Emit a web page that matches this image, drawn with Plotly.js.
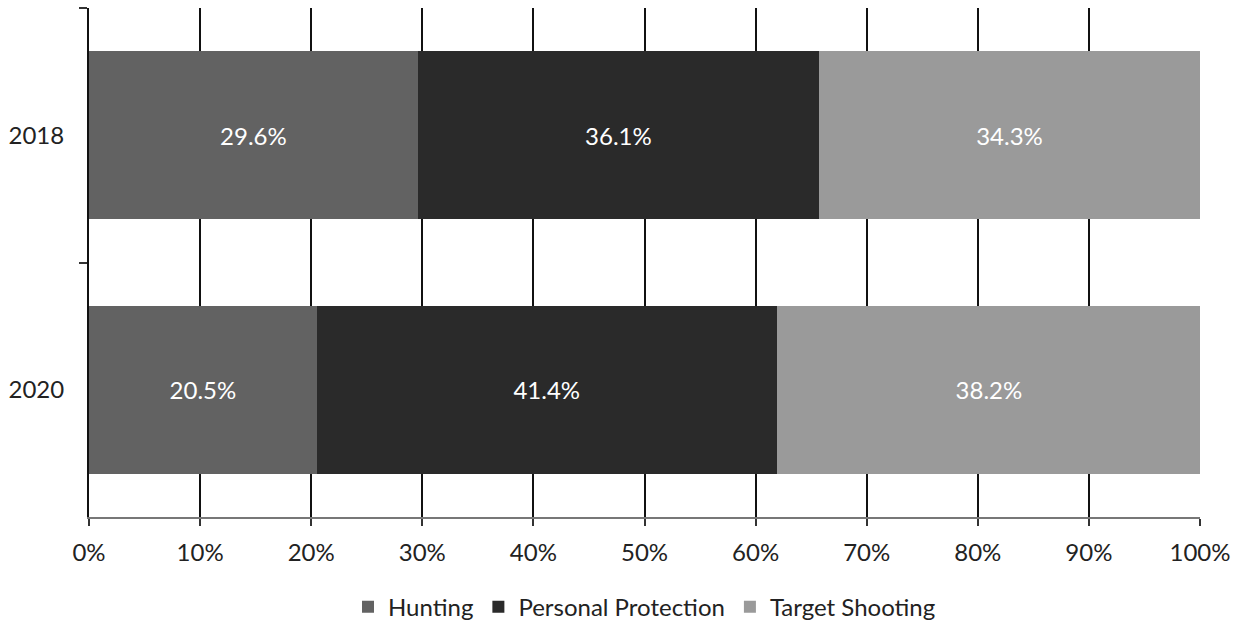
<!DOCTYPE html>
<html><head><meta charset="utf-8">
<script src="https://cdn.plot.ly/plotly-3.0.1.min.js"></script>
<style>body{margin:0;background:#fff}#chart{width:1239px;height:626px}</style>
</head><body><div id="chart"></div>
<script>
const years = ['2018', '2020'];
const hunting = [29.6, 20.5];
const personalProtection = [36.1, 41.4];
const targetShooting = [34.3, 38.2];
const seriesNames = ['Hunting', 'Personal Protection', 'Target Shooting'];
const seriesColors = ['#626262', '#2a2a2a', '#9a9a9a'];
const xTickVals = [0,10,20,30,40,50,60,70,80,90,100];
const xTickText = ['0%','10%','20%','30%','40%','50%','60%','70%','80%','90%','100%'];

const FONT = 'Lato, "Open Sans", sans-serif';
const FS = 24;
const series = [hunting, personalProtection, targetShooting];
const traces = series.map((vals, i) => ({
  type: 'bar', orientation: 'h', y: years, x: vals, name: seriesNames[i],
  marker: {color: seriesColors[i], line: {width: 0}},
  text: vals.map(v => v.toFixed(1) + '%'), textposition: 'inside',
  insidetextanchor: 'middle', textangle: 0,
  textfont: {color: '#ffffff', size: FS, family: FONT},
  hoverinfo: 'skip'
}));

const layout = {
  barmode: 'stack', bargap: 0.34,
  margin: {l: 89, r: 39, t: 8, b: 109, autoexpand: false},
  paper_bgcolor: '#fff', plot_bgcolor: '#fff',
  font: {family: FONT, size: FS, color: '#222'},
  xaxis: {range: [0, 100], tickvals: xTickVals, ticktext: xTickText,
    showgrid: true, gridcolor: '#111', gridwidth: 2, zeroline: false,
    showline: true, linecolor: '#777', linewidth: 2,
    ticks: 'outside', ticklen: 7, tickcolor: '#333', tickwidth: 2,
    ticklabelstandoff: 6, automargin: false,
    tickfont: {size: FS, color: '#222', family: FONT}, fixedrange: true},
  yaxis: {type: 'category', autorange: 'reversed', tickson: 'boundaries',
    showgrid: false, zeroline: false, showline: true, linecolor: '#111', linewidth: 2,
    ticks: 'outside', ticklen: 8, tickcolor: '#333', tickwidth: 2,
    ticklabelstandoff: 18, automargin: false,
    tickfont: {size: FS, color: '#222', family: FONT}, fixedrange: true},
  legend: {orientation: 'h', x: 0.5, xanchor: 'center', y: -0.177, yanchor: 'middle',
    font: {size: FS, color: '#222', family: FONT}, tracegroupgap: 0,
    traceorder: 'normal'},
  showlegend: true
};
Plotly.newPlot('chart', traces, layout, {displayModeBar: false, staticPlot: true});
</script></body></html>
